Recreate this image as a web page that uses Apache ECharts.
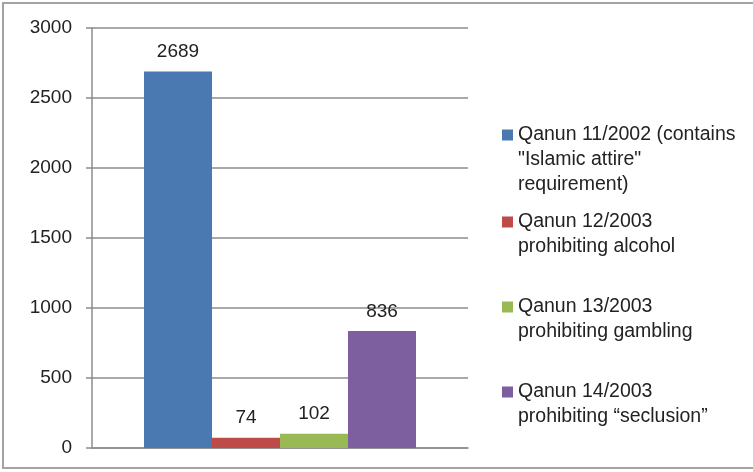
<!DOCTYPE html>
<html>
<head>
    <meta charset="utf-8">
    <title>Qanun cases</title>
    <script src="https://cdn.jsdelivr.net/npm/echarts@6/dist/echarts.min.js"></script>
</head>
<body style="margin:0;background:#fff;">
    <div id="main" style="width: 753px;height:472px;"></div>
    <script type="text/javascript">
        var categories = [''];
        var seriesNames = [
            'Qanun 11/2002 (contains\n"Islamic attire"\nrequirement)',
            'Qanun 12/2003\nprohibiting alcohol',
            'Qanun 13/2003\nprohibiting gambling',
            'Qanun 14/2003\nprohibiting \u201cseclusion\u201d'
        ];
        var values = [2689, 74, 102, 836];
        var colors = ['#4A78B0', '#BE4B48', '#98B954', '#7D5FA0'];
        // first-line centre of each legend entry
        var legendCenters = [135, 222, 307, 392];

        var fontFamily = '"Liberation Sans", Arial, sans-serif';
        var lineH = 25;

        var chartDom = document.getElementById('main');
        var myChart = echarts.init(chartDom);

        // icon as tall as the text block, with the square sitting on the first line
        function iconFor(n) {
            var h = n * lineH;
            return 'path://M0,0M0,' + h + 'M0,7L11,7L11,18L0,18Z';
        }

        var legends = seriesNames.map(function (name, i) {
            var n = name.split('\n').length;
            return {
                data: [name],
                orient: 'vertical',
                left: 502,
                top: legendCenters[i] - lineH / 2,
                padding: 0,
                itemWidth: 11,
                itemHeight: n * lineH,
                icon: iconFor(n),
                selectedMode: false,
                textStyle: {
                    fontFamily: fontFamily,
                    fontSize: 19.5,
                    color: '#222',
                    lineHeight: lineH
                }
            };
        });

        var series = seriesNames.map(function (name, i) {
            return {
                type: 'bar',
                name: name,
                data: [values[i]],
                barWidth: 68,
                barGap: '0%',
                itemStyle: { color: colors[i] },
                label: {
                    show: true,
                    position: 'top',
                    distance: 10,
                    fontFamily: fontFamily,
                    fontSize: 19,
                    color: '#222'
                }
            };
        });

        var option = {
            backgroundColor: '#fff',
            animation: false,
            graphic: [{
                type: 'rect',
                shape: { x: 3, y: 3, width: 770, height: 465 },
                style: { fill: null, stroke: '#a3a3a3', lineWidth: 2 },
                silent: true
            }],
            legend: legends,
            grid: {
                left: 92,
                right: 285,
                top: 28,
                bottom: 24
            },
            xAxis: {
                type: 'category',
                data: categories,
                axisLine: { show: true, lineStyle: { color: '#8c8c8c', width: 1.5 } },
                axisTick: { show: false },
                axisLabel: { show: false }
            },
            yAxis: {
                type: 'value',
                min: 0,
                max: 3000,
                interval: 500,
                axisLine: { show: true, lineStyle: { color: '#8c8c8c', width: 1.5 } },
                axisTick: { show: true, length: 6, lineStyle: { color: '#8c8c8c', width: 1.5 } },
                axisLabel: {
                    margin: 20,
                    fontFamily: fontFamily,
                    fontSize: 19,
                    color: '#222',
                    formatter: function (v) { return String(v); }
                },
                splitLine: { show: true, lineStyle: { color: '#8c8c8c', width: 1.5 } }
            },
            series: series
        };

        option && myChart.setOption(option);
    </script>
</body>
</html>
